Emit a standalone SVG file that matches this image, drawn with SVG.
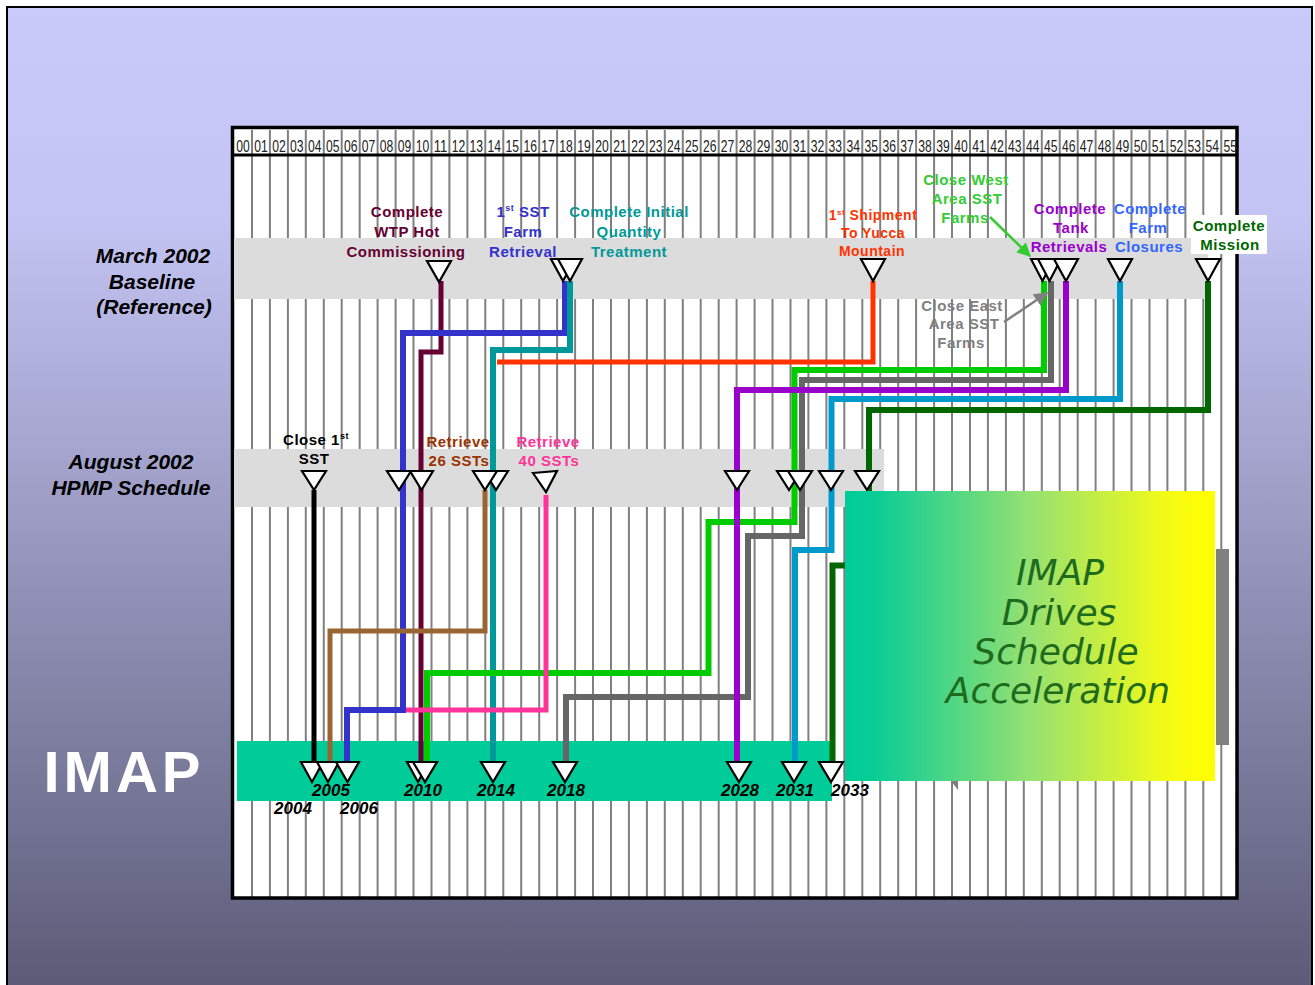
<svg xmlns="http://www.w3.org/2000/svg" width="1315" height="985" viewBox="0 0 1315 985">
<defs>
<linearGradient id="page" gradientUnits="userSpaceOnUse" x1="0" y1="0" x2="0" y2="985">
<stop offset="0" stop-color="#c9c9fa"/>
<stop offset="0.22" stop-color="#c4c4f4"/>
<stop offset="1" stop-color="#5c5c78"/>
</linearGradient>
<linearGradient id="boxg" x1="0" y1="0" x2="1" y2="0">
<stop offset="0" stop-color="#00cc99"/>
<stop offset="0.08" stop-color="#0acc97"/>
<stop offset="0.5" stop-color="#95e172"/>
<stop offset="0.88" stop-color="#f6fb14"/>
<stop offset="1" stop-color="#ffff00"/>
</linearGradient>
<marker id="ahG" viewBox="0 0 10 10" refX="9" refY="5" markerWidth="14" markerHeight="14" markerUnits="userSpaceOnUse" orient="auto"><path d="M0,0 L10,5 L0,10 z" fill="#33cc33"/></marker>
<marker id="ahY" viewBox="0 0 10 10" refX="9" refY="5" markerWidth="14" markerHeight="14" markerUnits="userSpaceOnUse" orient="auto"><path d="M0,0 L10,5 L0,10 z" fill="#808080"/></marker>
<style>
.hdr{font-family:"Liberation Sans",Arial,sans-serif;font-size:16.5px;fill:#222;text-anchor:middle}
.lbl{font-family:"Liberation Sans",Arial,sans-serif;font-weight:bold;font-size:15px;text-anchor:middle;letter-spacing:0.5px}
.side{font-family:"Liberation Sans",Arial,sans-serif;font-weight:bold;font-style:italic;font-size:21px;text-anchor:middle;fill:#000}
.yr{font-family:"Liberation Sans",Arial,sans-serif;font-weight:bold;font-style:italic;font-size:17px;text-anchor:middle;fill:#000}
.tri{fill:#fff;stroke:#000;stroke-width:2.2;stroke-linejoin:miter}
.c{fill:none;stroke-linejoin:miter;stroke-linecap:butt}
.big{font-family:"DejaVu Sans",Verdana,sans-serif;font-style:italic;font-size:36px;text-anchor:middle;fill:#1e6b1e}
</style>
</defs>
<rect x="0" y="0" width="1315" height="985" fill="#fff"/>
<rect x="7" y="7" width="1305" height="1000" fill="url(#page)" stroke="#000" stroke-width="2"/>

<g id="chart">
<rect x="232" y="128" width="1005" height="770" fill="#fff"/>
<path d="M252,130V897M269.9,130V897M287.9,130V897M305.8,130V897M323.8,130V897M341.7,130V897M359.7,130V897M377.6,130V897M395.6,130V897M413.5,130V897M431.5,130V897M449.4,130V897M467.4,130V897M485.3,130V897M503.3,130V897M521.2,130V897M539.2,130V897M557.1,130V897M575.1,130V897M593,130V897M611,130V897M628.9,130V897M646.9,130V897M664.8,130V897M682.8,130V897M700.7,130V897M718.7,130V897M736.6,130V897M754.6,130V897M772.5,130V897M790.5,130V897M808.4,130V897M826.4,130V897M844.3,130V897M862.3,130V897M880.2,130V897M898.2,130V897M916.1,130V897M934.1,130V897M952,130V897M970,130V897M987.9,130V897M1005.9,130V897M1023.8,130V897M1041.8,130V897M1059.7,130V897M1077.7,130V897M1095.6,130V897M1113.6,130V897M1131.5,130V897M1149.5,130V897M1167.4,130V897M1185.4,130V897M1203.3,130V897M1221.3,130V897" stroke="#808080" stroke-width="2" fill="none"/>
<line x1="232" y1="155" x2="1237" y2="155" stroke="#000" stroke-width="3"/>
<rect x="232.5" y="127.5" width="1004.5" height="770.5" fill="none" stroke="#000" stroke-width="3.5"/>
<g id="years-header">
<text class="hdr" x="243" y="152" textLength="13.5" lengthAdjust="spacingAndGlyphs">00</text>
<text class="hdr" x="260.9" y="152" textLength="13.5" lengthAdjust="spacingAndGlyphs">01</text>
<text class="hdr" x="278.9" y="152" textLength="13.5" lengthAdjust="spacingAndGlyphs">02</text>
<text class="hdr" x="296.8" y="152" textLength="13.5" lengthAdjust="spacingAndGlyphs">03</text>
<text class="hdr" x="314.8" y="152" textLength="13.5" lengthAdjust="spacingAndGlyphs">04</text>
<text class="hdr" x="332.7" y="152" textLength="13.5" lengthAdjust="spacingAndGlyphs">05</text>
<text class="hdr" x="350.7" y="152" textLength="13.5" lengthAdjust="spacingAndGlyphs">06</text>
<text class="hdr" x="368.6" y="152" textLength="13.5" lengthAdjust="spacingAndGlyphs">07</text>
<text class="hdr" x="386.6" y="152" textLength="13.5" lengthAdjust="spacingAndGlyphs">08</text>
<text class="hdr" x="404.5" y="152" textLength="13.5" lengthAdjust="spacingAndGlyphs">09</text>
<text class="hdr" x="422.5" y="152" textLength="13.5" lengthAdjust="spacingAndGlyphs">10</text>
<text class="hdr" x="440.4" y="152" textLength="13.5" lengthAdjust="spacingAndGlyphs">11</text>
<text class="hdr" x="458.4" y="152" textLength="13.5" lengthAdjust="spacingAndGlyphs">12</text>
<text class="hdr" x="476.3" y="152" textLength="13.5" lengthAdjust="spacingAndGlyphs">13</text>
<text class="hdr" x="494.3" y="152" textLength="13.5" lengthAdjust="spacingAndGlyphs">14</text>
<text class="hdr" x="512.2" y="152" textLength="13.5" lengthAdjust="spacingAndGlyphs">15</text>
<text class="hdr" x="530.2" y="152" textLength="13.5" lengthAdjust="spacingAndGlyphs">16</text>
<text class="hdr" x="548.1" y="152" textLength="13.5" lengthAdjust="spacingAndGlyphs">17</text>
<text class="hdr" x="566.1" y="152" textLength="13.5" lengthAdjust="spacingAndGlyphs">18</text>
<text class="hdr" x="584" y="152" textLength="13.5" lengthAdjust="spacingAndGlyphs">19</text>
<text class="hdr" x="602" y="152" textLength="13.5" lengthAdjust="spacingAndGlyphs">20</text>
<text class="hdr" x="619.9" y="152" textLength="13.5" lengthAdjust="spacingAndGlyphs">21</text>
<text class="hdr" x="637.9" y="152" textLength="13.5" lengthAdjust="spacingAndGlyphs">22</text>
<text class="hdr" x="655.8" y="152" textLength="13.5" lengthAdjust="spacingAndGlyphs">23</text>
<text class="hdr" x="673.8" y="152" textLength="13.5" lengthAdjust="spacingAndGlyphs">24</text>
<text class="hdr" x="691.7" y="152" textLength="13.5" lengthAdjust="spacingAndGlyphs">25</text>
<text class="hdr" x="709.7" y="152" textLength="13.5" lengthAdjust="spacingAndGlyphs">26</text>
<text class="hdr" x="727.6" y="152" textLength="13.5" lengthAdjust="spacingAndGlyphs">27</text>
<text class="hdr" x="745.6" y="152" textLength="13.5" lengthAdjust="spacingAndGlyphs">28</text>
<text class="hdr" x="763.5" y="152" textLength="13.5" lengthAdjust="spacingAndGlyphs">29</text>
<text class="hdr" x="781.5" y="152" textLength="13.5" lengthAdjust="spacingAndGlyphs">30</text>
<text class="hdr" x="799.4" y="152" textLength="13.5" lengthAdjust="spacingAndGlyphs">31</text>
<text class="hdr" x="817.4" y="152" textLength="13.5" lengthAdjust="spacingAndGlyphs">32</text>
<text class="hdr" x="835.3" y="152" textLength="13.5" lengthAdjust="spacingAndGlyphs">33</text>
<text class="hdr" x="853.3" y="152" textLength="13.5" lengthAdjust="spacingAndGlyphs">34</text>
<text class="hdr" x="871.2" y="152" textLength="13.5" lengthAdjust="spacingAndGlyphs">35</text>
<text class="hdr" x="889.2" y="152" textLength="13.5" lengthAdjust="spacingAndGlyphs">36</text>
<text class="hdr" x="907.1" y="152" textLength="13.5" lengthAdjust="spacingAndGlyphs">37</text>
<text class="hdr" x="925.1" y="152" textLength="13.5" lengthAdjust="spacingAndGlyphs">38</text>
<text class="hdr" x="943" y="152" textLength="13.5" lengthAdjust="spacingAndGlyphs">39</text>
<text class="hdr" x="961" y="152" textLength="13.5" lengthAdjust="spacingAndGlyphs">40</text>
<text class="hdr" x="978.9" y="152" textLength="13.5" lengthAdjust="spacingAndGlyphs">41</text>
<text class="hdr" x="996.9" y="152" textLength="13.5" lengthAdjust="spacingAndGlyphs">42</text>
<text class="hdr" x="1014.8" y="152" textLength="13.5" lengthAdjust="spacingAndGlyphs">43</text>
<text class="hdr" x="1032.8" y="152" textLength="13.5" lengthAdjust="spacingAndGlyphs">44</text>
<text class="hdr" x="1050.7" y="152" textLength="13.5" lengthAdjust="spacingAndGlyphs">45</text>
<text class="hdr" x="1068.7" y="152" textLength="13.5" lengthAdjust="spacingAndGlyphs">46</text>
<text class="hdr" x="1086.6" y="152" textLength="13.5" lengthAdjust="spacingAndGlyphs">47</text>
<text class="hdr" x="1104.6" y="152" textLength="13.5" lengthAdjust="spacingAndGlyphs">48</text>
<text class="hdr" x="1122.5" y="152" textLength="13.5" lengthAdjust="spacingAndGlyphs">49</text>
<text class="hdr" x="1140.5" y="152" textLength="13.5" lengthAdjust="spacingAndGlyphs">50</text>
<text class="hdr" x="1158.4" y="152" textLength="13.5" lengthAdjust="spacingAndGlyphs">51</text>
<text class="hdr" x="1176.4" y="152" textLength="13.5" lengthAdjust="spacingAndGlyphs">52</text>
<text class="hdr" x="1194.3" y="152" textLength="13.5" lengthAdjust="spacingAndGlyphs">53</text>
<text class="hdr" x="1212.3" y="152" textLength="13.5" lengthAdjust="spacingAndGlyphs">54</text>
<text class="hdr" x="1230.2" y="152" textLength="13.5" lengthAdjust="spacingAndGlyphs">55</text>
</g>
<rect id="band-baseline" x="234" y="238" width="974" height="61" fill="#dcdcdc"/>
<rect id="band-hpmp" x="234" y="449" width="650" height="58" fill="#dcdcdc"/>
<rect id="band-imap" x="237" y="741" width="595" height="60" fill="#00cc99"/>
</g>

<g id="side-labels">
<text class="side" x="153" y="263">March 2002</text>
<text class="side" x="152" y="289">Baseline</text>
<text class="side" x="154" y="314">(Reference)</text>
<text class="side" x="131" y="469">August 2002</text>
<text class="side" x="131" y="495">HPMP Schedule</text>
<text x="124" y="792" font-family="Liberation Sans, Arial, sans-serif" font-weight="bold" font-size="58" letter-spacing="4" text-anchor="middle" fill="#fff">IMAP</text>
</g>

<g id="connectors">
<path class="c" d="M441,281V352H421V776" stroke="#660033" stroke-width="5"/>
<path class="c" d="M565,281V333H403V710H347V776" stroke="#3333cc" stroke-width="6"/>
<path class="c" d="M570,281V350H493V776" stroke="#009999" stroke-width="6"/>
<path class="c" d="M873,281V362H497" stroke="#ff3300" stroke-width="5"/>
<path class="c" d="M1044,281V370H794.5V522H708.5V673H427V776" stroke="#00cc00" stroke-width="6"/>
<path class="c" d="M1051,281V380H802V536H748V697H566V776" stroke="#666666" stroke-width="6"/>
<path class="c" d="M1066,281V390H737V776" stroke="#9900cc" stroke-width="6"/>
<path class="c" d="M1120,281V399H831.5V550H795V776" stroke="#0099cc" stroke-width="6"/>
<path class="c" d="M1208,281V410H869V565.5H832.5V776" stroke="#006600" stroke-width="6"/>
<path class="c" d="M314,490V776" stroke="#000" stroke-width="5"/>
<path class="c" d="M485,490V631H330V776" stroke="#996633" stroke-width="5"/>
<path class="c" d="M546,495V710H406" stroke="#ff3399" stroke-width="5"/>
<line x1="990" y1="217" x2="1030" y2="256" stroke="#33cc33" stroke-width="2.5" marker-end="url(#ahG)"/>
<line x1="1004" y1="322" x2="1047" y2="293" stroke="#808080" stroke-width="2.5" marker-end="url(#ahY)"/>
</g>

<g id="m-wtp">
<text class="lbl" fill="#660033"><tspan x="407" y="217">Complete</tspan><tspan x="407" y="237">WTP Hot</tspan><tspan x="406" y="257">Commissioning</tspan></text>
<polygon class="tri" points="427,261 451,261 439,282"/>
</g>
<g id="m-first-farm">
<text class="lbl" fill="#3333cc"><tspan x="523" y="217">1<tspan font-size="9" dy="-6">st</tspan><tspan dy="6"> SST</tspan></tspan><tspan x="523" y="237">Farm</tspan><tspan x="523" y="257">Retrieval</tspan></text>
<polygon class="tri" points="551,259 575,259 563,281"/>
</g>
<g id="m-initial-treatment">
<text class="lbl" fill="#009999"><tspan x="629" y="217">Complete Initial</tspan><tspan x="629" y="237">Quantity</tspan><tspan x="629" y="257">Treatment</tspan></text>
<polygon class="tri" points="558,259 582,259 570,281"/>
</g>
<g id="m-yucca">
<text class="lbl" fill="#ff3300" style="font-size:14px"><tspan x="873" y="220">1<tspan font-size="8" dy="-5">st</tspan><tspan dy="5"> Shipment</tspan></tspan><tspan x="873" y="238">To Yucca</tspan><tspan x="872" y="256">Mountain</tspan></text>
<polygon class="tri" points="861,259 885,259 873,281"/>
</g>
<g id="m-close-west">
<text class="lbl" fill="#33cc33"><tspan x="966" y="185">Close West</tspan><tspan x="967" y="204">Area SST</tspan><tspan x="965" y="223">Farms</tspan></text>
<polygon class="tri" points="1031,259 1054,259 1042.5,281"/>
</g>
<g id="m-close-east">
<text class="lbl" fill="#808080"><tspan x="962" y="311">Close East</tspan><tspan x="964" y="329">Area SST</tspan><tspan x="961" y="348">Farms</tspan></text>
<polygon class="tri" points="1038,259 1061,259 1049.5,281"/>
</g>
<g id="m-tank-retrievals">
<text class="lbl" fill="#9900cc"><tspan x="1070" y="214">Complete</tspan><tspan x="1071" y="233">Tank</tspan><tspan x="1069" y="252">Retrievals</tspan></text>
<polygon class="tri" points="1054,259 1078,259 1066,281"/>
</g>
<g id="m-farm-closures">
<text class="lbl" fill="#3366ff"><tspan x="1150" y="214">Complete</tspan><tspan x="1148" y="233">Farm</tspan><tspan x="1149" y="252">Closures</tspan></text>
<polygon class="tri" points="1108,259 1132,259 1120,281"/>
</g>
<g id="m-mission">
<rect x="1191" y="215" width="76" height="39" fill="#fff"/>
<text class="lbl" fill="#006600"><tspan x="1229" y="231">Complete</tspan><tspan x="1230" y="250">Mission</tspan></text>
<polygon class="tri" points="1196,259 1220,259 1208,281"/>
</g>

<g id="m-close-first">
<text class="lbl" fill="#000"><tspan x="316" y="445">Close 1<tspan font-size="9" dy="-6">st</tspan></tspan><tspan x="314" y="464">SST</tspan></text>
<polygon class="tri" points="302,471 326,471 314,490"/>
</g>
<g id="h-first-farm"><polygon class="tri" points="387,471 411,471 399,490"/></g>
<g id="h-wtp"><polygon class="tri" points="410,471 433,471 421.5,490"/></g>
<g id="h-initial-treatment"><polygon class="tri" points="484,471 508,471 496,490"/></g>
<g id="m-retrieve26">
<text class="lbl" fill="#993300"><tspan x="458" y="447">Retrieve</tspan><tspan x="459" y="466">26 SSTs</tspan></text>
<polygon class="tri" points="473,471 497,471 485,490"/>
</g>
<g id="m-retrieve40">
<text class="lbl" fill="#ff3399"><tspan x="548" y="447">Retrieve</tspan><tspan x="549" y="466">40 SSTs</tspan></text>
<polygon class="tri" points="533,473 557,471 546,492"/>
</g>
<g id="h-tank-retrievals"><polygon class="tri" points="725,471 749,471 737,490"/></g>
<g id="h-close-west"><polygon class="tri" points="777,471 801,471 789,490"/></g>
<g id="h-close-east"><polygon class="tri" points="788,471 812,471 800,490"/></g>
<g id="h-farm-closures"><polygon class="tri" points="819,471 843,471 831,490"/></g>
<g id="h-mission"><polygon class="tri" points="855,471 879,471 867,490"/></g>

<g id="box-imap">
<rect x="1216" y="549" width="13" height="196" fill="#808080"/>
<polygon points="951,781 958,781 958,790" fill="#808080"/>
<rect x="845" y="491" width="370" height="290" fill="url(#boxg)"/>
<text class="big"><tspan x="1060" y="585">IMAP</tspan><tspan x="1059" y="625">Drives</tspan><tspan x="1056" y="664">Schedule</tspan><tspan x="1058" y="703">Acceleration</tspan></text>
</g>

<g id="imap-row">
<g id="i-2004"><polygon class="tri" points="301,762 323,762 312,782"/><text class="yr" x="293" y="814">2004</text></g>
<g id="i-2005"><polygon class="tri" points="317,762 339,762 328,782"/><text class="yr" x="331" y="796">2005</text></g>
<g id="i-2006"><polygon class="tri" points="336,762 359,762 347.5,782"/><text class="yr" x="359" y="814">2006</text></g>
<g id="i-2010a"><polygon class="tri" points="407,762 429,762 418,782"/></g>
<g id="i-2010"><polygon class="tri" points="413,762 437,762 425,782"/><text class="yr" x="423" y="796">2010</text></g>
<g id="i-2014"><polygon class="tri" points="481,762 505,762 493,782"/><text class="yr" x="496" y="796">2014</text></g>
<g id="i-2018"><polygon class="tri" points="553,762 577,762 565,782"/><text class="yr" x="566" y="796">2018</text></g>
<g id="i-2028"><polygon class="tri" points="727,762 751,762 739,782"/><text class="yr" x="740" y="796">2028</text></g>
<g id="i-2031"><polygon class="tri" points="782,762 806,762 794,782"/><text class="yr" x="795" y="796">2031</text></g>
<g id="i-2033"><polygon class="tri" points="819,762 843,762 831,782"/><text class="yr" x="850" y="796">2033</text></g>
</g>
</svg>
